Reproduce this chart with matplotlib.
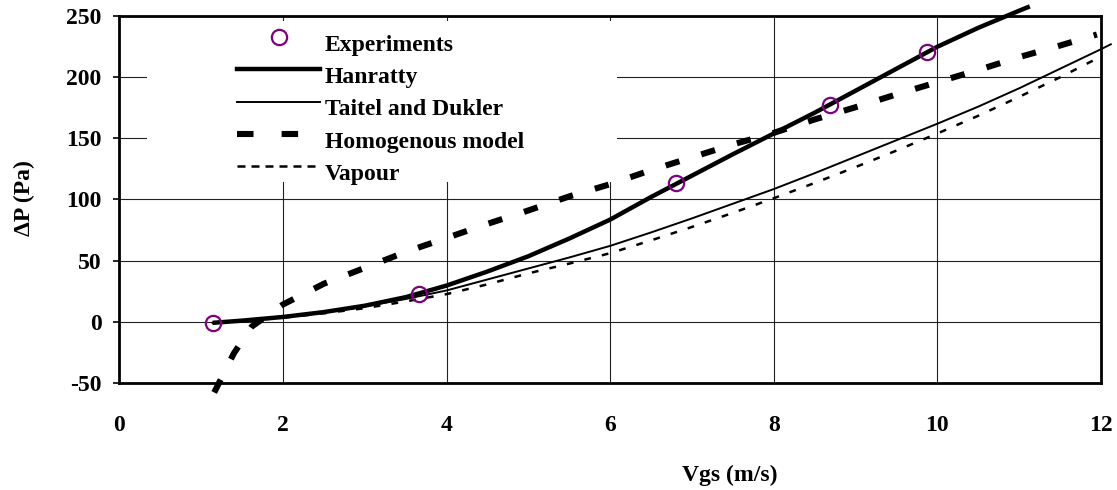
import matplotlib
matplotlib.use("Agg")
import matplotlib.pyplot as plt
from matplotlib.lines import Line2D
from matplotlib.patches import Rectangle
from matplotlib.legend_handler import HandlerLine2D

# Measured pressure drop
exp_x = [1.14, 3.66, 6.81, 8.69, 9.87]
exp_y = [-1.0, 22.7, 113.3, 177.3, 221.0]

# Hanratty model
han_x = [1.14, 1.5, 2.0, 2.5, 3.0, 3.5, 4.0, 4.5, 5.0, 5.5, 6.0, 6.5, 7.0, 7.5,
         8.0, 8.5, 9.0, 9.5, 10.0, 10.5, 11.0, 11.13]
han_y = [-1.0, 0.8, 3.8, 7.8, 13.0, 20.0, 29.5, 41.0, 53.5, 68.0, 83.5, 102.0, 119.5, 137.0,
         154.0, 171.0, 189.0, 207.0, 225.0, 240.5, 254.5, 258.0]

# Taitel and Dukler model
td_x = [1.14, 1.5, 2.0, 2.5, 3.0, 3.5, 4.0, 4.5, 5.0, 5.5, 6.0, 6.5, 7.0, 7.5,
        8.0, 8.5, 9.0, 9.5, 10.0, 10.5, 11.0, 11.5, 12.0, 12.12]
td_y = [-1.0, 0.8, 3.8, 7.5, 12.5, 18.5, 25.5, 34.5, 43.5, 52.5, 62.0, 73.0, 84.5, 96.5,
        108.5, 121.5, 135.0, 148.5, 162.0, 176.0, 191.0, 207.0, 223.0, 227.0]

# Homogeneous model
hom_x = [1.16, 1.4, 1.62, 2.0, 2.5, 3.0, 3.5, 4.0, 4.5, 5.0, 5.5, 6.0, 6.5, 7.0,
         7.5, 8.0, 8.5, 9.0, 9.5, 10.0, 10.5, 11.0, 11.5, 11.95]
hom_y = [-58.0, -26.0, -4.0, 14.0, 31.0, 44.0, 57.0, 68.5, 80.0, 91.0, 102.5, 112.5, 124.0, 134.5,
         145.0, 154.5, 165.5, 175.5, 186.0, 196.0, 206.0, 216.5, 226.0, 235.0]

# Vapour only
vap_x = [1.14, 1.5, 2.0, 2.5, 3.0, 3.5, 4.0, 4.5, 5.0, 5.5, 6.0, 6.5, 7.0, 7.5,
         8.0, 8.5, 9.0, 9.5, 10.0, 10.5, 11.0, 11.5, 12.0]
vap_y = [-1.0, 0.5, 3.2, 6.8, 11.0, 16.5, 22.5, 30.5, 39.5, 47.5, 56.0, 66.5, 77.5, 89.0,
         101.0, 113.5, 126.5, 140.0, 154.0, 168.5, 184.0, 200.0, 217.0]

x_ticks = [0, 2, 4, 6, 8, 10, 12]
y_ticks = [-50, 0, 50, 100, 150, 200, 250]
labels = ["Experiments", "Hanratty", "Taitel and Dukler", "Homogenous model", "Vapour"]

FONT = ["Liberation Serif", "DejaVu Serif"]
plt.rcParams["font.family"] = FONT
plt.rcParams["font.weight"] = "bold"
plt.rcParams["font.size"] = 17
plt.rcParams["axes.unicode_minus"] = False

W, H = 1117, 490
fig = plt.figure(figsize=(W / 100, H / 100), dpi=100)
L, R, T, B = 119.3, 1101.0, 16.2, 382.7
ax = fig.add_axes([L / W, 1 - B / H, (R - L) / W, (B - T) / H])

ax.set_xlim(0, 12)
ax.set_ylim(-50, 250)
ax.set_xticks(x_ticks)
ax.set_yticks(y_ticks)
ax.set_axisbelow(True)
ax.grid(True, color="#222222", linewidth=0.8)
for s in ax.spines.values():
    s.set_linewidth(2.0)
    s.set_color("black")
ax.tick_params(axis="x", length=0, pad=23)
ax.tick_params(axis="y", direction="out", length=4.3, width=1.2, pad=8.4)

# white panel behind the legend
ax.add_patch(Rectangle((0.0282, 0.548), 0.479, 0.439, transform=ax.transAxes,
                       facecolor="white", edgecolor="none", zorder=1))

ax.plot(han_x, han_y, color="black", lw=3.2, solid_capstyle="butt",
        solid_joinstyle="round", clip_on=False, zorder=3)
ax.plot(td_x, td_y, color="black", lw=1.4, clip_on=False, zorder=3)
ax.plot(hom_x, hom_y, color="black", lw=4.4, dashes=(2.35, 3.75), clip_on=False, zorder=3)
ax.plot(vap_x, vap_y, color="black", lw=1.8, dashes=(2.7, 4.5), clip_on=False, zorder=3)
ax.plot(exp_x, exp_y, linestyle="none", marker="o", markersize=11, markerfacecolor="none",
        markeredgecolor="#800080", markeredgewidth=1.6, clip_on=False, zorder=4)


class Raised(HandlerLine2D):
    def __init__(self, dy=0.0, **kw):
        super().__init__(**kw)
        self.dy = dy

    def create_artists(self, legend, orig_handle, xdescent, ydescent, width, height,
                       fontsize, trans):
        return super().create_artists(legend, orig_handle, xdescent, ydescent - 2 * self.dy,
                                      width, height, fontsize, trans)


handles = [
    Line2D([], [], linestyle="none", marker="o", markersize=11, markerfacecolor="none",
           markeredgecolor="#800080", markeredgewidth=1.6),
    Line2D([], [], color="black", lw=3.2),
    Line2D([], [], color="black", lw=1.4),
    Line2D([], [], color="black", lw=4.4, dashes=(2.7, 4.6)),
    Line2D([], [], color="black", lw=1.8, dashes=(3.2, 2.4)),
]
hmap = {h: Raised(dy=4) for h in handles}
leg = ax.legend(handles, labels, loc="upper left", bbox_to_anchor=(0.1204, 0.95),
                frameon=False, borderpad=0, borderaxespad=0, handlelength=3.5,
                handletextpad=0.2, labelspacing=0.45, numpoints=1, handler_map=hmap,
                prop={"family": FONT, "weight": "bold", "size": 17})
leg.set_zorder(5)

fig.text(730 / W, 1 - 475 / H, "Vgs (m/s)", ha="center", va="center",
         fontsize=17, fontweight="bold")
fig.text(24 / W, 1 - 198 / H, "ΔP (Pa)", ha="center", va="center", rotation=90,
         fontsize=17, fontweight="bold")

fig.savefig("out.png", dpi=100)
